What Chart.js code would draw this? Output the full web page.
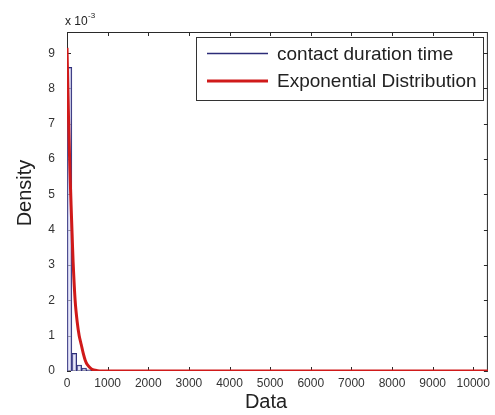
<!DOCTYPE html>
<html>
<head>
<meta charset="utf-8">
<script src="https://cdn.jsdelivr.net/npm/chart.js@4.4.1/dist/chart.umd.min.js"></script>
<style>
  html, body { margin: 0; padding: 0; background: #fff; }
  #wrap { width: 495px; height: 415px; }
</style>
</head>
<body>
<div id="wrap"><canvas id="densityChart" width="495" height="415"></canvas></div>
<script>
// Histogram of contact duration time (bin centres, density values)
const binCenters = [60, 180, 300, 420, 540];
const binDensity = [0.0086, 0.0005, 0.00017, 0.00008, 0.00003];

// Fitted exponential curve
const fitX = [0, 25, 50, 75, 100, 125, 150, 200, 250, 300, 350, 400, 450, 500, 600, 700, 800, 1000, 10360];
const fitY = [0.00915, 0.0078, 0.0066, 0.0056, 0.0047, 0.0039, 0.0031, 0.0020, 0.0014, 0.0010, 0.00075, 0.0005, 0.0003, 0.00018, 0.00006, 0.00002, 0, 0, 0];

const xTicks = [0, 1000, 2000, 3000, 4000, 5000, 6000, 7000, 8000, 9000, 10000];
const yTicks = [0, 0.001, 0.002, 0.003, 0.004, 0.005, 0.006, 0.007, 0.008, 0.009];

const legendLabels = ['contact duration time', 'Exponential Distribution'];
const blueColor = '#2c2c78';
const redColor = '#d01a1a';
const fontFamily = "'Liberation Sans', Arial, sans-serif";

// draws the MATLAB style box with inward ticks, titles and legend
const framePlugin = {
  id: 'frame',
  beforeDatasetsDraw(chart) {
    const { ctx, chartArea: a, scales: { x, y } } = chart;
    ctx.save();
    ctx.strokeStyle = '#2a2a2a';
    ctx.lineWidth = 1;
    ctx.strokeRect(a.left + 0.5, a.top + 0.5, a.right - a.left - 1, a.bottom - a.top - 1);
    ctx.beginPath();
    x.ticks.forEach(t => {
      const px = Math.round(x.getPixelForValue(t.value)) + 0.5;
      ctx.moveTo(px, a.bottom); ctx.lineTo(px, a.bottom - 4);
      ctx.moveTo(px, a.top); ctx.lineTo(px, a.top + 4);
    });
    y.ticks.forEach(t => {
      const py = Math.round(y.getPixelForValue(t.value)) + 0.5;
      ctx.moveTo(a.left, py); ctx.lineTo(a.left + 4, py);
      ctx.moveTo(a.right, py); ctx.lineTo(a.right - 4, py);
    });
    ctx.stroke();
    ctx.restore();
  },
  afterDraw(chart) {
    const { ctx } = chart;
    ctx.save();
    ctx.fillStyle = '#222';
    // exponent label
    ctx.font = '12px ' + fontFamily;
    ctx.textBaseline = 'alphabetic';
    ctx.fillText('x 10', 65, 25);
    ctx.font = '8px ' + fontFamily;
    ctx.fillText('-3', 88, 18);
    // axis titles
    ctx.font = '20px ' + fontFamily;
    ctx.textAlign = 'center';
    ctx.textBaseline = 'middle';
    ctx.fillText('Data', 266, 402);
    ctx.save();
    ctx.translate(25, 193);
    ctx.rotate(-Math.PI / 2);
    ctx.fillText('Density', 0, 0);
    ctx.restore();
    // legend box
    ctx.fillStyle = '#fff';
    ctx.fillRect(196, 37, 287, 63);
    ctx.strokeStyle = '#333';
    ctx.lineWidth = 1;
    ctx.strokeRect(196.5, 37.5, 287, 63);
    const colors = [blueColor, redColor];
    const widths = [1.5, 3];
    const rows = [53.5, 81];
    ctx.textAlign = 'left';
    ctx.font = '19px ' + fontFamily;
    legendLabels.forEach((label, i) => {
      ctx.strokeStyle = colors[i];
      ctx.lineWidth = widths[i];
      ctx.beginPath();
      ctx.moveTo(207, rows[i]);
      ctx.lineTo(268, rows[i]);
      ctx.stroke();
      ctx.fillStyle = '#222';
      ctx.fillText(label, 277, rows[i] + 1);
    });
    ctx.restore();
  }
};

const ctx = document.getElementById('densityChart').getContext('2d');
new Chart(ctx, {
  type: 'bar',
  data: {
    datasets: [{
      type: 'bar',
      label: legendLabels[0],
      data: binCenters.map((c, i) => ({ x: c, y: binDensity[i] })),
      backgroundColor: 'rgba(215, 215, 245, 0.6)',
      borderColor: blueColor,
      borderWidth: 1,
      barPercentage: 1,
      categoryPercentage: 1,
      order: 2
    }, {
      type: 'line',
      label: legendLabels[1],
      data: fitX.map((v, i) => ({ x: v, y: fitY[i] })),
      borderColor: redColor,
      borderWidth: 3,
      pointRadius: 0,
      tension: 0.3,
      fill: false,
      order: 1
    }]
  },
  options: {
    responsive: false,
    animation: false,
    layout: { padding: { top: 32, right: 1, left: 0, bottom: 0 } },
    plugins: {
      legend: { display: false },
      tooltip: { enabled: false }
    },
    scales: {
      x: {
        type: 'linear',
        offset: false,
        min: 0,
        max: 10360,
        afterBuildTicks: s => { s.ticks = xTicks.map(v => ({ value: v })); },
        afterFit: s => { s.height = 44; },
        ticks: {
          padding: 5,
          color: '#333',
          font: { family: fontFamily, size: 12 },
          maxRotation: 0,
          callback: v => String(v)
        },
        grid: { display: false, drawTicks: false },
        border: { display: false }
      },
      y: {
        min: 0,
        max: 0.0096,
        afterBuildTicks: s => { s.ticks = yTicks.map(v => ({ value: v })); },
        afterFit: s => { s.width = 67; },
        ticks: {
          padding: 12,
          color: '#333',
          font: { family: fontFamily, size: 12 },
          callback: v => String(Math.round(v * 1000))
        },
        grid: { display: false, drawTicks: false },
        border: { display: false }
      }
    }
  },
  plugins: [framePlugin]
});
</script>
</body>
</html>
